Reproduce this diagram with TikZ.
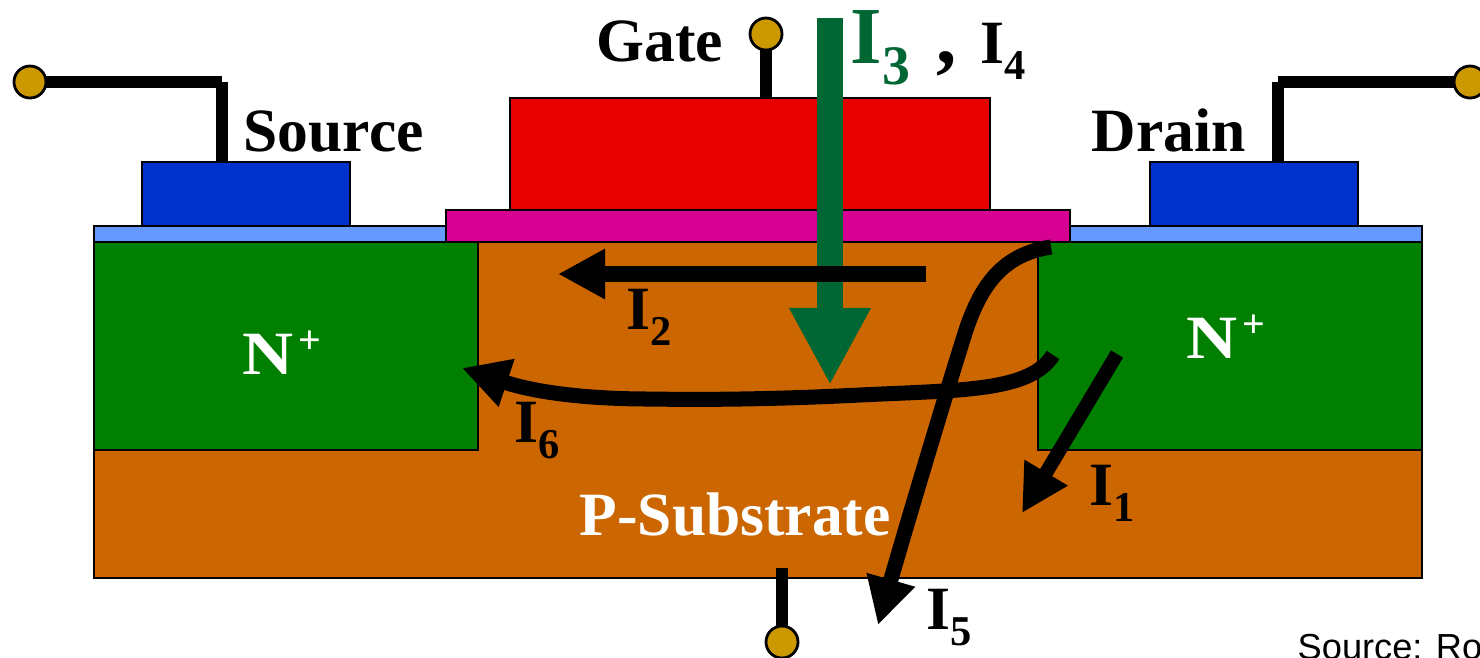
\documentclass[tikz,border=0pt]{standalone}
\usepackage{fontspec}
\setmainfont{Liberation Serif}
\newfontfamily\srcfont{Liberation Sans}
\usepackage{tikz}
\usetikzlibrary{arrows.meta}

\definecolor{bulkbrown}{HTML}{CC6600}
\definecolor{nplusgreen}{HTML}{007F00}
\definecolor{oxideblue}{HTML}{6699FF}
\definecolor{oxidepink}{HTML}{D60093}
\definecolor{polyred}{HTML}{E60000}
\definecolor{metalblue}{HTML}{0033CC}
\definecolor{padgold}{HTML}{CC9900}
\definecolor{igreen}{HTML}{006633}

\newcommand{\curlabel}[1]{I\raisebox{-.26em}{\scalebox{.69}{#1}}}
\newcommand{\nplus}{\scalebox{1.15}[1]{N}\hspace{.08em}\raisebox{.33em}{\scalebox{.65}{+}}}

\tikzset{
    layer/.style={draw=black, line width=0.028cm},
    wire/.style={draw=black, line width=0.12cm},
    pad/.style={draw=black, fill=padgold, line width=0.028cm},
    current/.style={draw=black, line width=0.15cm, -{Triangle[length=0.47cm,width=0.47cm]}},
    lbl/.style={font=\fontsize{17.5}{20}\selectfont\bfseries, anchor=base west, inner sep=0pt},
    whitelbl/.style={lbl, text=white}
}

\begin{document}
\begin{tikzpicture}[x=0.01cm,y=-0.01cm]
    \useasboundingbox (0,0) rectangle (1480,657);
    \clip (0,0) rectangle (1480,657);

    % Substrate and wells
    \draw[layer, fill=bulkbrown] (94,242) rectangle (1422,578);
    \draw[layer, fill=nplusgreen] (94,242) rectangle (478,450);
    \draw[layer, fill=nplusgreen] (1038,242) rectangle (1422,450);

    % Oxide, gate and contacts
    \draw[layer, fill=oxideblue] (94,226) rectangle (1422,242);
    \draw[layer, fill=oxidepink] (446,210) rectangle (1070,242);
    \draw[layer, fill=polyred] (510,98) rectangle (990,210);
    \draw[layer, fill=metalblue] (142,162) rectangle (350,226);
    \draw[layer, fill=metalblue] (1150,162) rectangle (1358,226);

    % Terminals
    \draw[wire] (30,82) -- (222,82);
    \draw[wire] (222,82) -- (222,162);
    \draw[wire] (1470,82) -- (1278,82);
    \draw[wire] (1278,82) -- (1278,162);
    \draw[wire] (766,34) -- (766,98);
    \draw[wire] (782,568) -- (782,642);
    \draw[pad] (30,82) circle (16);
    \draw[pad] (1470,82) circle (16);
    \draw[pad] (766,34) circle (16);
    \draw[pad] (782,642) circle (16);

    % Leakage currents
    \draw[igreen, line width=0.26cm, -{Triangle[length=0.77cm,width=0.76cm]}] (830,18) -- (830,385);
    \draw[current, line width=0.16cm] (926,274) -- (558,274);
    \draw[current, line width=0.14cm] (1117,354) -- (1022,513);
    \draw[current] (1053,355) .. controls (1030,392) and (960,390) .. (860,395)
        .. controls (780,399) and (710,400) .. (650,399)
        .. controls (590,399) and (537,393) .. (462,368);
    \draw[current] (1051,247) .. controls (1005,254) and (982,282) .. (966,330)
        .. controls (950,380) and (905,530) .. (878,625);

    % Labels
    \node[lbl] (gate) at (596,61) {Gate};
    \node[lbl] (source) at (243,151) {Source};
    \node[lbl] (drain) at (1091,151) {Drain};
    \node[whitelbl] (nleft) at (242,374) {\nplus};
    \node[whitelbl] (nright) at (1186,358) {\nplus};
    \node[whitelbl] (sub) at (579,535) {P-Substrate};

    \node[lbl, text=igreen, font=\fontsize{23}{26}\selectfont\bfseries] (ithree) at (850,63) {\curlabel{3}};
    \node[lbl, font=\fontsize{23}{26}\selectfont\bfseries] (comma) at (936,63) {,};
    \node[lbl] (ifour) at (980,63) {\curlabel{4}};
    \node[lbl] (itwo) at (626,329) {\curlabel{2}};
    \node[lbl] (isix) at (514,442) {\curlabel{6}};
    \node[lbl] (ione) at (1089,505) {\curlabel{1}};
    \node[lbl] (ifive) at (926,629) {\curlabel{5}};

    \node[anchor=base west, inner sep=0pt, font=\srcfont\fontsize{10.3}{12}\selectfont] (src) at (1297,659) {Source: Ro};
\end{tikzpicture}
\end{document}
